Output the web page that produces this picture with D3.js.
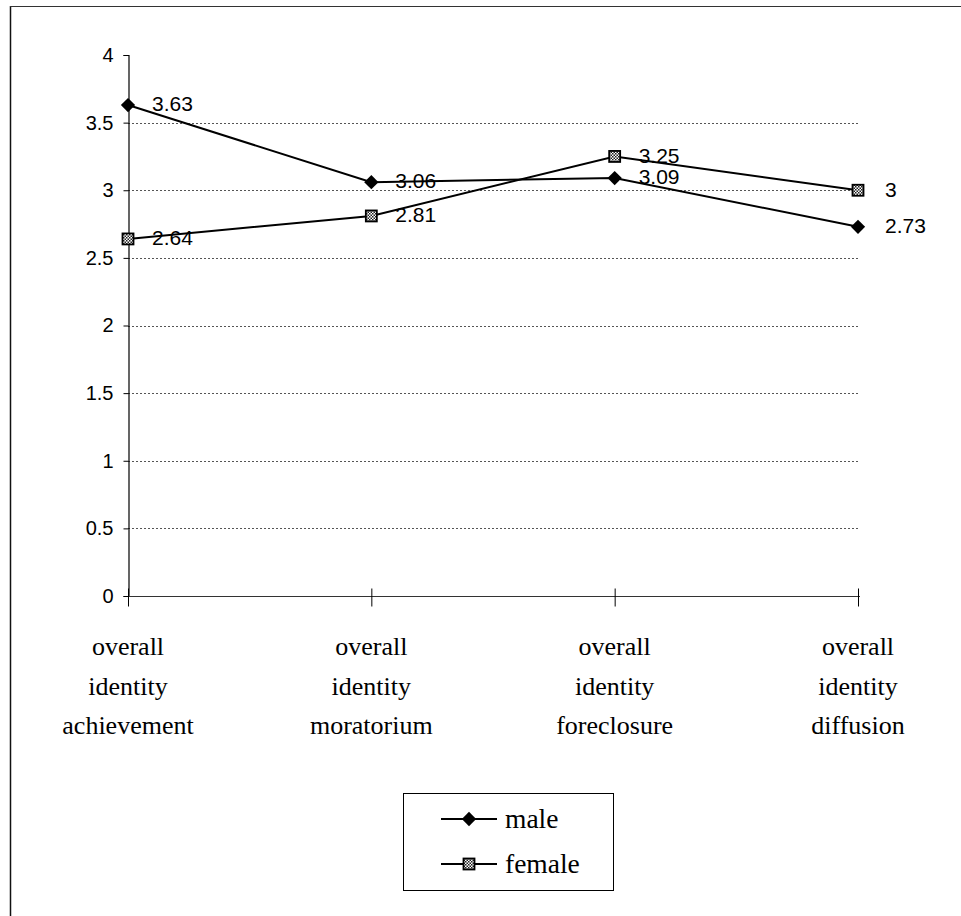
<!DOCTYPE html>
<html>
<head>
<meta charset="utf-8">
<script src="https://cdn.jsdelivr.net/npm/d3@7"></script>
<style>
  html, body { margin: 0; padding: 0; background: #fff; }
  svg { display: block; }
  .serif { font-family: "Liberation Serif", "Times New Roman", "DejaVu Serif", serif; }
  .sans { font-family: "Liberation Sans", Arial, sans-serif; }
</style>
</head>
<body>
<script>
// Identity status scores by gender
const categories = [
  ["overall", "identity", "achievement"],
  ["overall", "identity", "moratorium"],
  ["overall", "identity", "foreclosure"],
  ["overall", "identity", "diffusion"]
];
const maleValues = [3.63, 3.06, 3.09, 2.73];
const femaleValues = [2.64, 2.81, 3.25, 3];
const yTicks = [0, 0.5, 1, 1.5, 2, 2.5, 3, 3.5, 4];
const seriesNames = ["male", "female"];

const W = 961, H = 916;
const svg = d3.select("body").append("svg").attr("width", W).attr("height", H);

const defs = svg.append("defs");
const pat = defs.append("pattern")
  .attr("id", "checker").attr("patternUnits", "userSpaceOnUse")
  .attr("width", 3).attr("height", 3);
pat.append("rect").attr("width", 3).attr("height", 3).attr("fill", "#fff");
pat.append("rect").attr("width", 1.5).attr("height", 1.5).attr("fill", "#222");
pat.append("rect").attr("x", 1.5).attr("y", 1.5).attr("width", 1.5).attr("height", 1.5).attr("fill", "#222");

// outer chart border (left and top edges)
svg.append("line").attr("x1", 10.5).attr("x2", 10.5).attr("y1", 6).attr("y2", H).attr("stroke", "#111").attr("stroke-width", 1.5);
svg.append("line").attr("x1", 10).attr("x2", W).attr("y1", 6.5).attr("y2", 6.5).attr("stroke", "#333").attr("stroke-width", 1.2);

const x0 = 128, x1 = 858;
const x = d3.scalePoint().domain(d3.range(categories.length)).range([x0, x1]);
const y = d3.scaleLinear().domain([0, 4]).range([596, 55]);

// gridlines
svg.append("g").selectAll("line").data(yTicks.filter(t => t > 0 && t < 4)).join("line")
  .attr("x1", x0).attr("x2", x1)
  .attr("y1", d => Math.round(y(d)) + 0.5).attr("y2", d => Math.round(y(d)) + 0.5)
  .attr("stroke", "#555").attr("stroke-width", 1).attr("stroke-dasharray", "2,2");

// y axis
const yAxis = d3.axisLeft(y).tickValues(yTicks).tickSize(5).tickPadding(10).tickFormat(d => String(d));
const gy = svg.append("g").attr("transform", `translate(${x0 + 0.5},0)`).call(yAxis);
gy.attr("font-family", null).attr("font-size", null);
gy.select(".domain").attr("stroke", "#000").attr("stroke-width", 1.2);
gy.selectAll(".tick line").attr("stroke", "#000");
gy.selectAll(".tick text").attr("class", "sans").attr("font-size", 20).attr("fill", "#000");

// x axis with crossing ticks
const gx = svg.append("g").attr("transform", `translate(0,${Math.round(y(0)) + 0.5})`);
gx.append("line").attr("x1", x0).attr("x2", x1 + 2).attr("stroke", "#333").attr("stroke-width", 1.2);
gx.selectAll(".xt").data(d3.range(categories.length)).join("line").attr("class", "xt")
  .attr("x1", d => x(d) + 0.5).attr("x2", d => x(d) + 0.5)
  .attr("y1", -8).attr("y2", 10).attr("stroke", "#000").attr("stroke-width", 1);

// category labels
const cl = svg.append("g");
categories.forEach((lines, i) => {
  const t = cl.append("text").attr("class", "serif").attr("x", x(i)).attr("y", 655).attr("text-anchor", "middle")
    .attr("font-size", 26).attr("fill", "#000");
  lines.forEach((ln, j) => t.append("tspan").attr("x", x(i)).attr("dy", j === 0 ? 0 : 39.5).text(ln));
});

// series
const line = d3.line().x((d, i) => x(i)).y(d => y(d));
const series = [
  { name: seriesNames[0], values: maleValues, marker: "diamond" },
  { name: seriesNames[1], values: femaleValues, marker: "square" }
];

function drawMarker(g, type, cx, cy) {
  if (type === "diamond") {
    g.append("path").attr("d", d3.symbol().type(d3.symbolDiamond2).size(130)())
      .attr("transform", `translate(${cx},${cy})`).attr("fill", "#000");
  } else {
    g.append("rect").attr("x", cx - 5.5).attr("y", cy - 5.5).attr("width", 11).attr("height", 11)
      .attr("fill", "url(#checker)").attr("stroke", "#000").attr("stroke-width", 1.8);
  }
}

series.forEach(s => {
  const g = svg.append("g");
  g.append("path").datum(s.values).attr("d", line).attr("fill", "none").attr("stroke", "#000").attr("stroke-width", 2);
  s.values.forEach((v, i) => drawMarker(g, s.marker, x(i), y(v)));
});

// data labels
series.forEach(s => {
  svg.append("g").selectAll("text").data(s.values).join("text")
    .attr("class", "sans")
    .attr("x", (d, i) => x(i) + (i === 3 ? 27 : 24))
    .attr("y", d => y(d) - 1)
    .attr("dy", "0.35em")
    .attr("font-size", 21).attr("fill", "#000")
    .text(d => String(d));
});

// legend
const lg = svg.append("g");
lg.append("rect").attr("x", 403.5).attr("y", 793.5).attr("width", 210).attr("height", 97)
  .attr("fill", "#fff").attr("stroke", "#000").attr("stroke-width", 1);
series.forEach((s, i) => {
  const cy = 819 + i * 45;
  lg.append("line").attr("x1", 441).attr("x2", 497).attr("y1", cy).attr("y2", cy).attr("stroke", "#000").attr("stroke-width", 2);
  drawMarker(lg, s.marker, 469, cy);
  lg.append("text").attr("class", "serif").attr("x", 505).attr("y", cy + 9)
    .attr("font-size", 27.5).attr("fill", "#000")
    .text(s.name);
});
</script>
</body>
</html>
